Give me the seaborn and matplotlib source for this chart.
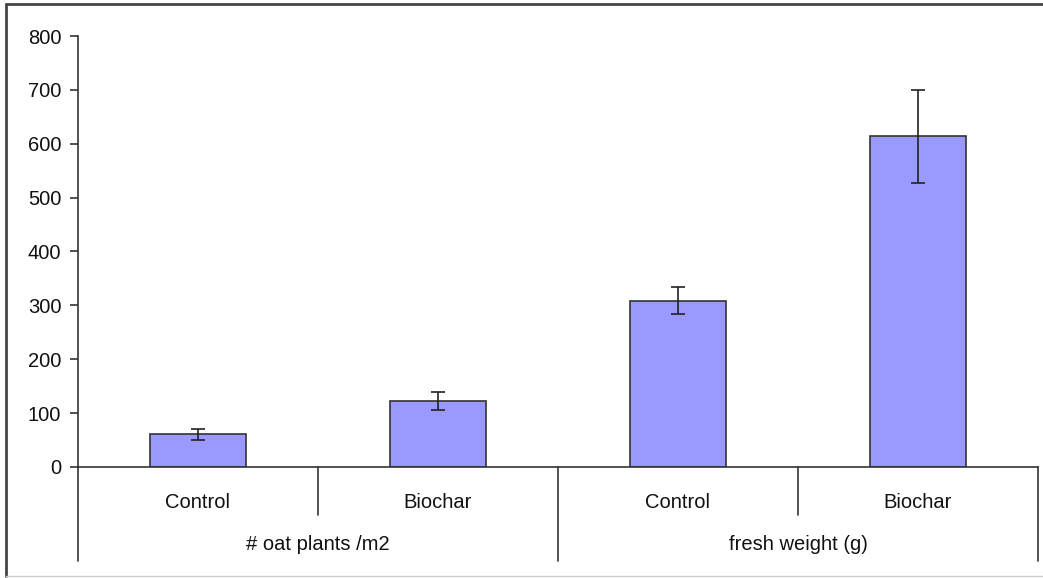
"""Oat plants and fresh weight, control vs biochar (bar chart with error bars)"""
import matplotlib
matplotlib.use('Agg')
import matplotlib.pyplot as plt
import matplotlib.transforms as mtransforms
from matplotlib.lines import Line2D
import seaborn as sns
import pandas as pd

# Data
groups = ['# oat plants /m2', '# oat plants /m2', 'fresh weight (g)', 'fresh weight (g)']
treatments = ['Control', 'Biochar', 'Control', 'Biochar']
means = [61, 122, 309, 614]
errors = [10, 17, 25, 86]
y_ticks = [0, 100, 200, 300, 400, 500, 600, 700, 800]

df = pd.DataFrame({'group': groups, 'treatment': treatments, 'mean': means, 'err': errors})
df['key'] = df['group'] + ' | ' + df['treatment']

sns.set_style('white')
plt.rcParams['font.family'] = ['Liberation Sans', 'DejaVu Sans']
FS = 14.5

W, H = 1043, 578
fig = plt.figure(figsize=(W / 100, H / 100), dpi=100)
ax = fig.add_axes([78 / W, 1 - 467 / H, (1038 - 78) / W, (467 - 36) / H])

sns.barplot(data=df, x='key', y='mean', order=list(df['key']), color='#9999FF',
            edgecolor='#333333', linewidth=1.2, width=0.4, saturation=1,
            errorbar=None, ax=ax)
ax.errorbar(range(len(df)), df['mean'], yerr=df['err'], fmt='none',
            ecolor='#222222', elinewidth=1.2, capsize=5, capthick=1.2)

ax.set_xlim(-0.5, len(df) - 0.5)
ax.set_ylim(0, 800)
ax.set_yticks(y_ticks)
ax.tick_params(axis='y', direction='out', length=6, width=1.2, color='#333333',
               labelsize=FS, labelcolor='#111111', pad=6, left=True)
ax.set_xticks([])
ax.set_xlabel('')
ax.set_ylabel('')
for side in ['top', 'right']:
    ax.spines[side].set_visible(False)
for side in ['left', 'bottom']:
    ax.spines[side].set_color('#333333')
    ax.spines[side].set_linewidth(1.2)

# multi-level category axis below the plot
trans = mtransforms.blended_transform_factory(ax.transData, fig.transFigure)
y0 = 1 - 467 / H
y_lvl1 = 1 - 515 / H
y_lvl2 = 1 - 561 / H
for i, row in df.iterrows():
    ax.text(i, 1 - 502 / H, row['treatment'], transform=trans, ha='center',
            va='center', fontsize=FS, color='#111111')
# boundaries between bars: short ticks inside a group, long ones between groups
for b in range(len(df) + 1):
    left = df['group'].iloc[b - 1] if b > 0 else None
    right = df['group'].iloc[b] if b < len(df) else None
    y_end = y_lvl1 if left == right else y_lvl2
    ax.add_line(Line2D([b - 0.5, b - 0.5], [y0, y_end], transform=trans,
                       color='#333333', lw=1.2, clip_on=False))
for g in df['group'].unique():
    idx = df.index[df['group'] == g]
    ax.text(idx.values.mean(), 1 - 545 / H, g, transform=trans, ha='center',
            va='center', fontsize=FS, color='#111111')

# frame around the chart area
fig.add_artist(Line2D([6 / W, 6 / W], [1 - 4 / H, 1 - 576 / H], color='#444444', lw=2))
fig.add_artist(Line2D([6 / W, 1.0], [1 - 4 / H, 1 - 4 / H], color='#444444', lw=2))
fig.add_artist(Line2D([6 / W, 1.0], [1 - 576 / H, 1 - 576 / H], color='#cccccc', lw=1))

fig.savefig('out.png', dpi=100)
plt.close(fig)
